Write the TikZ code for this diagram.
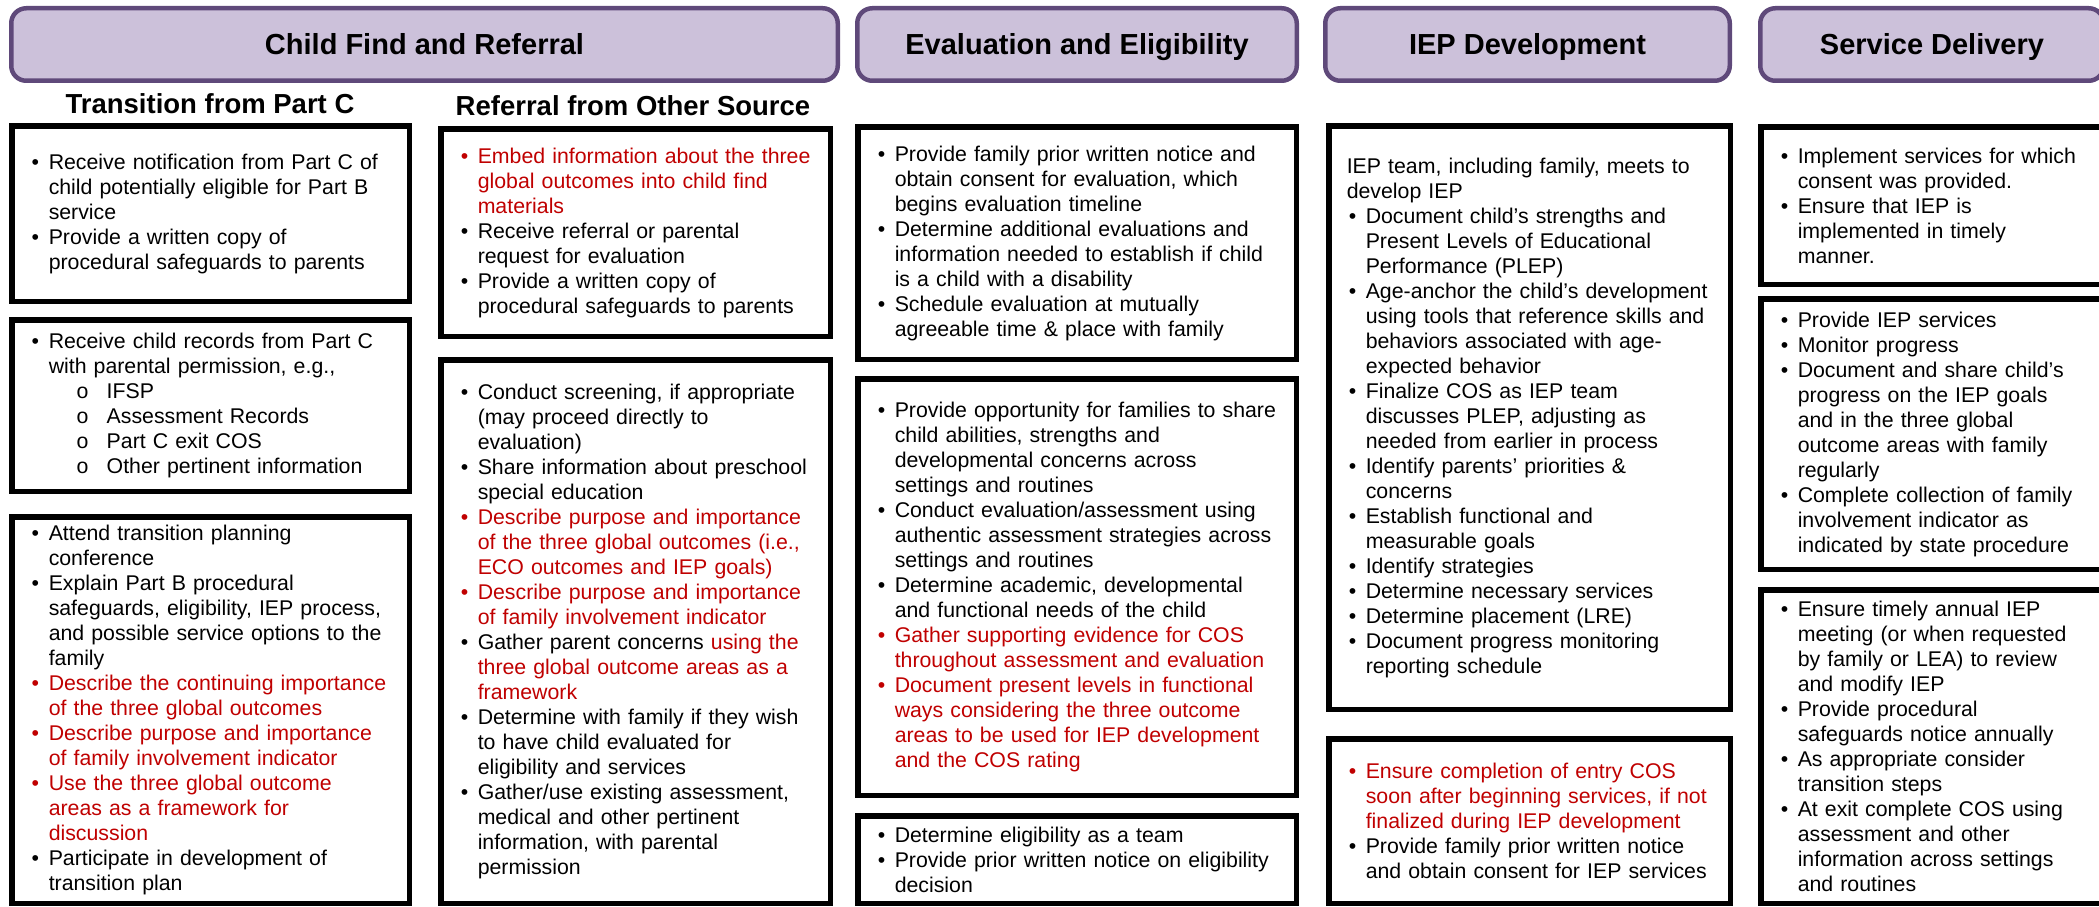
\documentclass[tikz,border=0pt]{standalone}
\usepackage{fontspec}
\setmainfont{Liberation Sans}
\usepackage{xcolor}
\usetikzlibrary{positioning}

\definecolor{phasefill}{HTML}{CCC1DA}
\definecolor{phaseline}{HTML}{5F497A}
\definecolor{outred}{HTML}{C00000}

\newcommand{\itm}[2][black]{\leftskip=20pt\hangindent=17pt\hangafter=1\noindent\makebox[17pt][l]{\color{#1}\textbullet}{\color{#1}#2}\par}
\newcommand{\subitm}[1]{\leftskip=20pt\noindent\hspace*{45pt}\makebox[30pt][l]{o}#1\par}
\newcommand{\lead}[1]{\leftskip=18pt\noindent #1\par}

\begin{document}
\begin{tikzpicture}[
    x=1pt, y=-1pt,
    every node/.style={font=\fontsize{21.3}{25}\selectfont},
    phase/.style={rectangle, rounded corners=15pt, draw=phaseline, line width=4.5pt, fill=phasefill, minimum height=72.5pt, text height=21pt, text depth=0pt, font=\fontsize{29}{34}\selectfont\bfseries},
    track/.style={anchor=base, font=\fontsize{27.5}{32}\selectfont\bfseries},
    stepbox/.style={rectangle, draw, line width=5.5pt, fill=white, inner xsep=0pt, align=left},
    transcol/.style={stepbox, text width=397.5pt},
    refcol/.style={stepbox, text width=389.5pt},
    evalcol/.style={stepbox, text width=438.5pt},
    iepcol/.style={stepbox, text width=401.5pt},
    servcol/.style={stepbox, text width=342.5pt},
]

\path[use as bounding box, clip] (0,0) rectangle (2099,907);

\node[phase, minimum width=826.5pt] (find) at (424.5,44.5) {Child Find and Referral};
\node[phase, minimum width=439.5pt] (eval) at (1077,44.5) {Evaluation and Eligibility};
\node[phase, minimum width=404.5pt] (iep) at (1527.5,44.5) {IEP Development};
\node[phase, minimum width=343.5pt] (serv) at (1932,44.5) {Service Delivery};

\node[track] (partc) at (210,113) {Transition from Part C};
\node[track] (other) at (633,115) {Referral from Other Source};

\node[transcol, anchor=north west, minimum height=175.5pt] (notify) at (9,123) {
    \itm{Receive notification from Part C of\newline child potentially eligible for Part B\newline service}
    \itm{Provide a written copy of\newline procedural safeguards to parents}};
\node[transcol, below=13pt of notify, minimum height=171.5pt] (records) {
    \itm{Receive child records from Part C\newline with parental permission, e.g.,}
    \subitm{IFSP}
    \subitm{Assessment Records}
    \subitm{Part C exit COS}
    \subitm{Other pertinent information}};
\node[transcol, below=20pt of records, minimum height=386.5pt] (planning) {
    \itm{Attend transition planning\newline conference}
    \itm{Explain Part B procedural\newline safeguards, eligibility, IEP process,\newline and possible service options to the\newline family}
    \itm[outred]{Describe the continuing importance\newline of the three global outcomes}
    \itm[outred]{Describe purpose and importance\newline of family involvement indicator}
    \itm[outred]{Use the three global outcome\newline areas as a framework for\newline discussion}
    \itm{Participate in development of\newline transition plan}};

\node[refcol, anchor=north west, minimum height=207.5pt] (embed) at (438,126) {
    \itm[outred]{Embed information about the three\newline global outcomes into child find\newline materials}
    \itm{Receive referral or parental\newline request for evaluation}
    \itm{Provide a written copy of\newline procedural safeguards to parents}};
\node[refcol, below=18pt of embed, minimum height=543.5pt] (screening) {
    \itm{Conduct screening, if appropriate\newline (may proceed directly to\newline evaluation)}
    \itm{Share information about preschool\newline special education}
    \itm[outred]{Describe purpose and importance\newline of the three global outcomes (i.e.,\newline ECO outcomes and IEP goals)}
    \itm[outred]{Describe purpose and importance\newline of family involvement indicator}
    \itm{Gather parent concerns {\color{outred}using the\newline three global outcome areas as a\newline framework}}
    \itm{Determine with family if they wish\newline to have child evaluated for\newline eligibility and services}
    \itm{Gather/use existing assessment,\newline medical and other pertinent\newline information, with parental\newline permission}};

\node[evalcol, anchor=north west, minimum height=232.5pt] (consent) at (855,124) {
    \itm{Provide family prior written notice and\newline obtain consent for evaluation, which\newline begins evaluation timeline}
    \itm{Determine additional evaluations and\newline information needed to establish if child\newline is a child with a disability}
    \itm{Schedule evaluation at mutually\newline agreeable time \& place with family}};
\node[evalcol, below=14pt of consent, minimum height=416.5pt] (assess) {
    \itm{Provide opportunity for families to share\newline child abilities, strengths and\newline developmental concerns across\newline settings and routines}
    \itm{Conduct evaluation/assessment using\newline authentic assessment strategies across\newline settings and routines}
    \itm{Determine academic, developmental\newline and functional needs of the child}
    \itm[outred]{Gather supporting evidence for COS\newline throughout assessment and evaluation}
    \itm[outred]{Document present levels in functional\newline ways considering the three outcome\newline areas to be used for IEP development\newline and the COS rating}};
\node[evalcol, below=15pt of assess, minimum height=87.5pt] (eligible) {
    \itm{Determine eligibility as a team}
    \itm{Provide prior written notice on eligibility\newline decision}};

\node[iepcol, anchor=north west, minimum height=583.5pt] (meeting) at (1326,123) {
    \lead{IEP team, including family, meets to\newline develop IEP}
    \itm{Document child’s strengths and\newline Present Levels of Educational\newline Performance (PLEP)}
    \itm{Age-anchor the child’s development\newline using tools that reference skills and\newline behaviors associated with age-\newline expected behavior}
    \itm{Finalize COS as IEP team\newline discusses PLEP, adjusting as\newline needed from earlier in process}
    \itm{Identify parents’ priorities \&\newline concerns}
    \itm{Establish functional and\newline measurable goals}
    \itm{Identify strategies}
    \itm{Determine necessary services}
    \itm{Determine placement (LRE)}
    \itm{Document progress monitoring\newline reporting schedule}};
\node[iepcol, below=24pt of meeting, minimum height=164.5pt] (entrycos) {
    \itm[outred]{Ensure completion of entry COS\newline soon after beginning services, if not\newline finalized during IEP development}
    \itm{Provide family prior written notice\newline and obtain consent for IEP services}};

\node[servcol, anchor=north west, minimum height=157.5pt] (implement) at (1758,124) {
    \itm{Implement services for which\newline consent was provided.}
    \itm{Ensure that IEP is\newline implemented in timely\newline manner.}};
\node[servcol, below=9pt of implement, minimum height=270.5pt] (progress) {
    \itm{Provide IEP services}
    \itm{Monitor progress}
    \itm{Document and share child’s\newline progress on the IEP goals\newline and in the three global\newline outcome areas with family\newline regularly}
    \itm{Complete collection of family\newline involvement indicator as\newline indicated by state procedure}};
\node[servcol, below=15pt of progress, minimum height=313.5pt] (annual) {
    \itm{Ensure timely annual IEP\newline meeting (or when requested\newline by family or LEA) to review\newline and modify IEP}
    \itm{Provide procedural\newline safeguards notice annually}
    \itm{As appropriate consider\newline transition steps}
    \itm{At exit complete COS using\newline assessment and other\newline information across settings\newline and routines}};

\end{tikzpicture}
\end{document}
